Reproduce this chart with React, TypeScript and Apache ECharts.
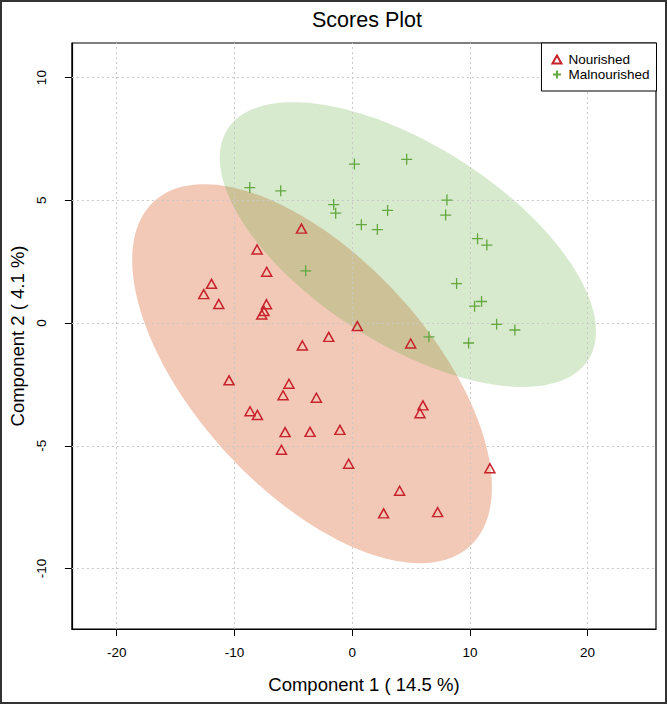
import React, { useEffect, useRef } from "react";
import * as echarts from "echarts";

// Scores (Component 1, Component 2)
const nourishedPoints: number[][] = [
  [-4.31, 3.85], [-8.08, 3.0], [-7.26, 2.09], [-11.95, 1.6], [-12.61, 1.18],
  [-11.33, 0.78], [-7.28, 0.77], [-7.49, 0.49], [-7.68, 0.35], [0.44, -0.12],
  [-1.99, -0.56], [-4.23, -0.91], [4.97, -0.83], [-10.46, -2.33], [-5.37, -2.47],
  [-5.87, -2.94], [-3.04, -3.04], [-8.68, -3.59], [-8.05, -3.74], [6.01, -3.35],
  [5.76, -3.67], [-5.7, -4.44], [-3.58, -4.43], [-1.04, -4.35], [-6.01, -5.16],
  [-0.3, -5.73], [11.7, -5.91], [4.03, -6.83], [2.67, -7.75], [7.26, -7.7],
];
const malnourishedPoints: number[][] = [
  [-8.7, 5.52], [-6.07, 5.39], [0.19, 6.48], [4.63, 6.67], [-1.57, 4.83],
  [-1.4, 4.48], [3.01, 4.59], [0.78, 4.01], [2.14, 3.81], [-3.95, 2.13],
  [8.05, 5.01], [7.94, 4.4], [10.65, 3.44], [11.44, 3.18], [8.87, 1.61],
  [10.4, 0.69], [10.99, 0.88], [12.27, -0.05], [13.82, -0.28], [6.52, -0.56],
  [9.89, -0.81],
];
// Confidence ellipses: [centerX, centerY, halfWidthX, halfHeightY, correlation]
const nourishedEllipse: number[][] = [[-3.41, -2.06, 15.28, 7.72, -0.6]];
const malnourishedEllipse: number[][] = [[4.73, 3.2, 15.98, 5.8, -0.61]];

const xTicks = [-20, -10, 0, 10, 20];
const yTicks = [-10, -5, 0, 5, 10];
const xRange = [-23.81, 25.81];
const yRange = [-12.46, 11.41];

const FONT = "'Liberation Sans', Arial, Helvetica, sans-serif";
const RED = "#C8232C";
const GREEN = "#62A83E";

function ellipseRenderer(fill: string) {
  return (params: any, api: any) => {
    const cx = api.value(0);
    const cy = api.value(1);
    const hx = api.value(2);
    const hy = api.value(3);
    const r = api.value(4);
    const s = Math.sqrt(1 - r * r);
    const pts: number[][] = [];
    const n = 180;
    for (let i = 0; i < n; i++) {
      const t = (i / n) * Math.PI * 2;
      const x = cx + hx * Math.cos(t);
      const y = cy + hy * (r * Math.cos(t) + s * Math.sin(t));
      pts.push(api.coord([x, y]));
    }
    return {
      type: "polygon",
      shape: { points: pts },
      style: { fill, stroke: "none" },
      silent: true,
    };
  };
}

export default function App() {
  const ref = useRef<HTMLDivElement>(null);
  useEffect(() => {
    document.body.style.margin = "0";
    if (!ref.current) return;
    const chart = echarts.init(ref.current, undefined, { renderer: "svg" });
    chart.setOption({
      animation: false,
      backgroundColor: "#ffffff",
      title: {
        text: "Scores Plot",
        left: 362,
        top: 4,
        textAlign: "center",
        textStyle: { fontFamily: FONT, fontSize: 21.5, fontWeight: "normal", color: "#000" },
      },
      graphic: [
        {
          type: "rect",
          shape: { x: 1, y: 1, width: 665, height: 702 },
          style: { fill: "none", stroke: "#333", lineWidth: 2 },
          silent: true,
          z: 100,
        },
      ],
      legend: {
        data: ["Nourished", "Malnourished"],
        orient: "vertical",
        right: 10.5,
        top: 43,
        padding: [9, 7, 9, 10],
        itemGap: 0,
        itemWidth: 9,
        itemHeight: 8,
        backgroundColor: "#fff",
        borderColor: "#000",
        borderWidth: 1,
        borderRadius: 0,
        textStyle: { fontFamily: FONT, fontSize: 13.5, color: "#000", lineHeight: 15, padding: [0, 0, 0, 2] },
        z: 20,
      },
      grid: {
        left: 71,
        right: 11,
        top: 43,
        bottom: 75,
        show: true,
        borderColor: "#000",
        borderWidth: 1.2,
        backgroundColor: "transparent",
      },
      xAxis: {
        type: "value",
        min: xRange[0],
        max: xRange[1],
        axisLine: { show: true, onZero: false, lineStyle: { color: "#000", width: 1.2 } },
        axisTick: { show: true, length: 7, customValues: xTicks, lineStyle: { color: "#000" } },
        axisLabel: {
          customValues: xTicks,
          margin: 16,
          fontFamily: FONT,
          fontSize: 13.5,
          color: "#000",
        },
        splitLine: { show: false },
        name: "Component 1 ( 14.5 %)",
        nameLocation: "middle",
        nameGap: 46,
        nameTextStyle: { fontFamily: FONT, fontSize: 18.5, color: "#000" },
      },
      yAxis: {
        type: "value",
        min: yRange[0],
        max: yRange[1],
        axisLine: { show: true, onZero: false, lineStyle: { color: "#000", width: 1.2 } },
        axisTick: { show: true, length: 7, customValues: yTicks, lineStyle: { color: "#000" } },
        axisLabel: {
          customValues: yTicks,
          rotate: 90,
          margin: 23,
          fontFamily: FONT,
          fontSize: 13.5,
          color: "#000",
        },
        splitLine: { show: false },
        name: "Component 2 ( 4.1 %)",
        nameLocation: "middle",
        nameGap: 44,
        nameTextStyle: { fontFamily: FONT, fontSize: 18.5, color: "#000" },
      },
      series: [
        {
          name: "grid",
          type: "scatter",
          data: [],
          z: 1,
          silent: true,
          markLine: {
            silent: true,
            symbol: ["none", "none"],
            label: { show: false },
            lineStyle: { color: "#c8c8c8", type: [2, 3], width: 1 },
            data: [
              ...xTicks.map((v) => ({ xAxis: v })),
              ...yTicks.map((v) => ({ yAxis: v })),
            ],
          },
        },
        {
          name: "Nourished ellipse",
          type: "custom",
          z: 2,
          data: nourishedEllipse,
          encode: { x: 0, y: 1 },
          renderItem: ellipseRenderer("rgba(220, 110, 65, 0.38)"),
        },
        {
          name: "Malnourished ellipse",
          type: "custom",
          z: 3,
          data: malnourishedEllipse,
          encode: { x: 0, y: 1 },
          renderItem: ellipseRenderer("rgba(100, 172, 65, 0.26)"),
        },
        {
          name: "Nourished",
          type: "scatter",
          z: 5,
          symbol: "triangle",
          symbolSize: [10, 9],
          data: nourishedPoints,
          itemStyle: { color: "rgba(0,0,0,0)", borderColor: RED, borderWidth: 1.5, opacity: 1 },
        },
        {
          name: "Malnourished",
          type: "scatter",
          z: 5,
          symbol: "path://M0,5L10,5M5,0L5,10",
          symbolSize: 11,
          data: malnourishedPoints,
          itemStyle: { color: "rgba(0,0,0,0)", borderColor: GREEN, borderWidth: 1.3, opacity: 1 },
        },
      ],
    });
    return () => chart.dispose();
  }, []);
  return (
    <div
      ref={ref}
      style={{ position: "absolute", left: 0, top: 0, width: 667, height: 704 }}
    />
  );
}
